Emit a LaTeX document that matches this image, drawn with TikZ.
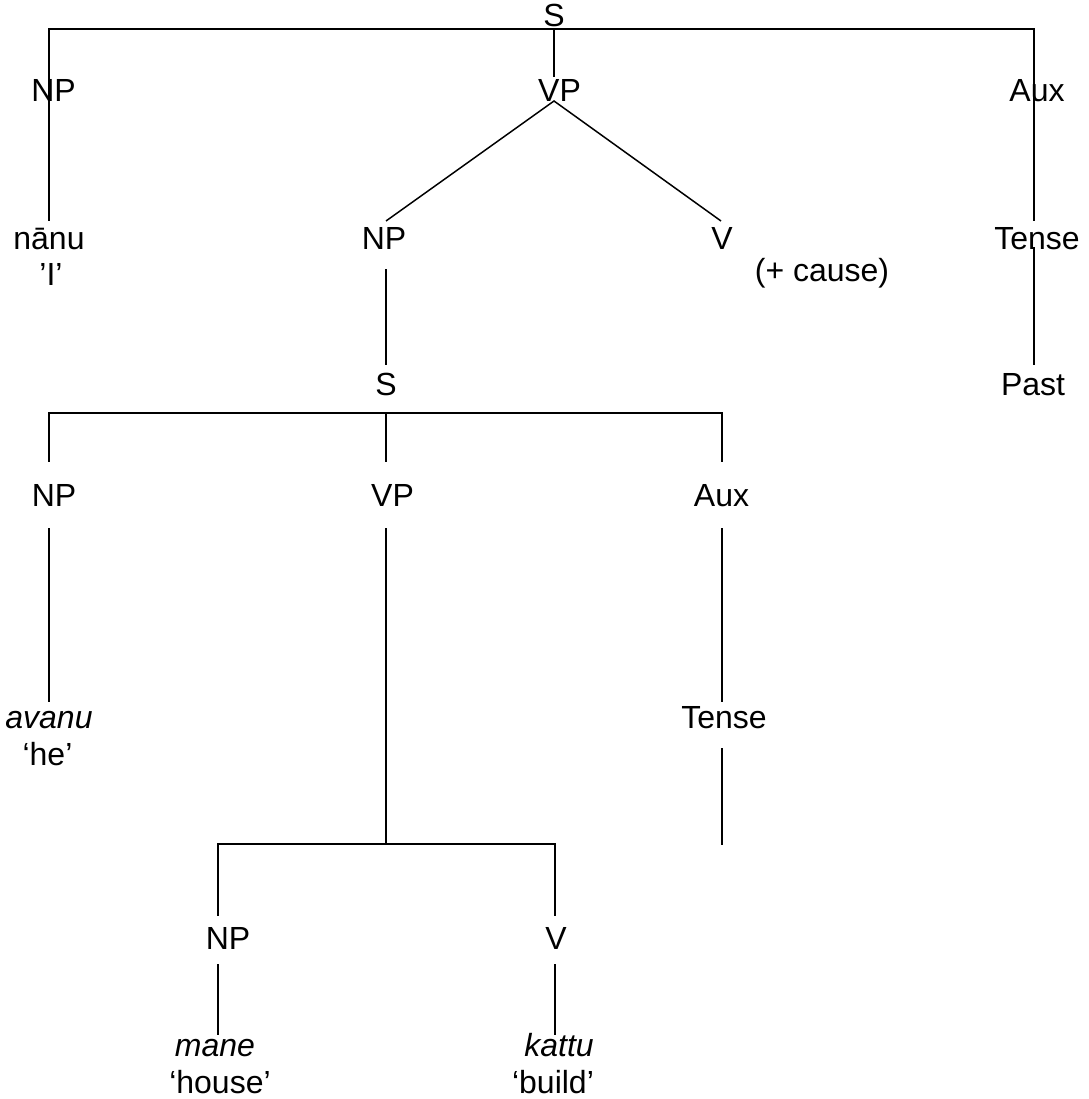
\documentclass[tikz,border=0pt]{standalone}
\usepackage{fontspec}
\setmainfont{Liberation Sans}
\begin{document}
\begin{tikzpicture}[x=1pt,y=-1pt,
  lbl/.style={font=\fontsize{32}{37}\selectfont, inner sep=0pt, anchor=base},
  itl/.style={lbl, font=\fontsize{32}{37}\selectfont\itshape},
  branch/.style={line width=1.5pt},
  hbar/.style={line width=2.2pt, line cap=rect}]
\useasboundingbox (0,0) rectangle (1088,1099);
\fill[white] (0,0) rectangle (1088,1099);

% ---------- labels ----------
\node[lbl] (s1)     at (554,27)  {S};
\node[lbl] (np1)    at (53.5,102) {NP};
\node[lbl] (vp1)    at (559.5,102) {VP};
\node[lbl] (aux1)   at (1037,102) {Aux};
\node[lbl] (nanu)   at (49,250)  {nānu};
\node[lbl] (nanug)  at (51,285)  {’I’};
\node[lbl] (np2)    at (384,250) {NP};
\node[lbl] (v1)     at (722,250) {V};
\node[lbl] (cause)  at (822,281) {(+ cause)};
\node[lbl] (tense1) at (1037,250) {Tense};
\node[lbl] (s2)     at (386,395) {S};
\node[lbl] (past)   at (1033,395) {Past};
\node[lbl] (np3)    at (54,506)  {NP};
\node[lbl] (vp2)    at (392.5,506) {VP};
\node[lbl] (aux2)   at (721.5,506) {Aux};
\node[itl] (avanu)  at (49,728)  {avanu};
\node[lbl] (avanug) at (47.5,765) {‘he’};
\node[lbl] (tense2) at (724,728) {Tense};
\node[lbl] (np4)    at (228,949) {NP};
\node[lbl] (v2)     at (556,949) {V};
\node[itl] (mane)   at (215,1056) {mane};
\node[lbl] (maneg)  at (220,1093) {‘house’};
\node[itl] (kattu)  at (559,1056) {kattu};
\node[lbl] (kattug) at (553,1093) {‘build’};

% ---------- joints ----------
\coordinate (b1L) at (49,29);
\coordinate (b1M) at (554,29);
\coordinate (b1R) at (1034,29);
\coordinate (vpTop) at (554,77);
\coordinate (apex) at (554,101);
\coordinate (nanuTop) at (49,221);
\coordinate (np2Top) at (386,221);
\coordinate (v1Top) at (721,221);
\coordinate (tense1Top) at (1034,221);
\coordinate (np2Bot) at (386,269);
\coordinate (s2Top) at (386,365);
\coordinate (tense1Bot) at (1034,247);
\coordinate (pastTop) at (1034,365);
\coordinate (b2L) at (49,413);
\coordinate (b2M) at (386,413);
\coordinate (b2R) at (722,413);
\coordinate (np3Top) at (49,462);
\coordinate (vp2Top) at (386,462);
\coordinate (aux2Top) at (722,462);
\coordinate (np3Bot) at (49,528);
\coordinate (vp2Bot) at (386,528);
\coordinate (aux2Bot) at (722,528);
\coordinate (avanuTop) at (49,702);
\coordinate (tense2Top) at (722,702);
\coordinate (tense2Bot) at (722,748);
\coordinate (tense2End) at (722,845);
\coordinate (b3L) at (218,844);
\coordinate (b3M) at (386,844);
\coordinate (b3R) at (555,844);
\coordinate (np4Top) at (218,916);
\coordinate (v2Top) at (555,916);
\coordinate (np4Bot) at (218,964);
\coordinate (v2Bot) at (555,964);
\coordinate (maneTop) at (218,1035);
\coordinate (kattuTop) at (555,1035);

% ---------- connectors ----------
\draw[hbar] (b1L) -- (b1R);
\draw[branch] (b1L) -- (nanuTop);
\draw[branch] (b1M) -- (vpTop);
\draw[branch] (b1R) -- (tense1Top);
\draw[branch] (np2Top) -- (apex) -- (v1Top);
\draw[branch] (np2Bot) -- (s2Top);
\draw[branch] (tense1Bot) -- (pastTop);

\draw[hbar] (b2L) -- (b2R);
\draw[branch] (b2L) -- (np3Top);
\draw[branch] (b2M) -- (vp2Top);
\draw[branch] (b2R) -- (aux2Top);
\draw[branch] (np3Bot) -- (avanuTop);
\draw[branch] (vp2Bot) -- (b3M);
\draw[branch] (aux2Bot) -- (tense2Top);
\draw[branch] (tense2Bot) -- (tense2End);

\draw[hbar] (b3L) -- (b3R);
\draw[branch] (b3L) -- (np4Top);
\draw[branch] (b3R) -- (v2Top);
\draw[branch] (np4Bot) -- (maneTop);
\draw[branch] (v2Bot) -- (kattuTop);
\end{tikzpicture}
\end{document}
